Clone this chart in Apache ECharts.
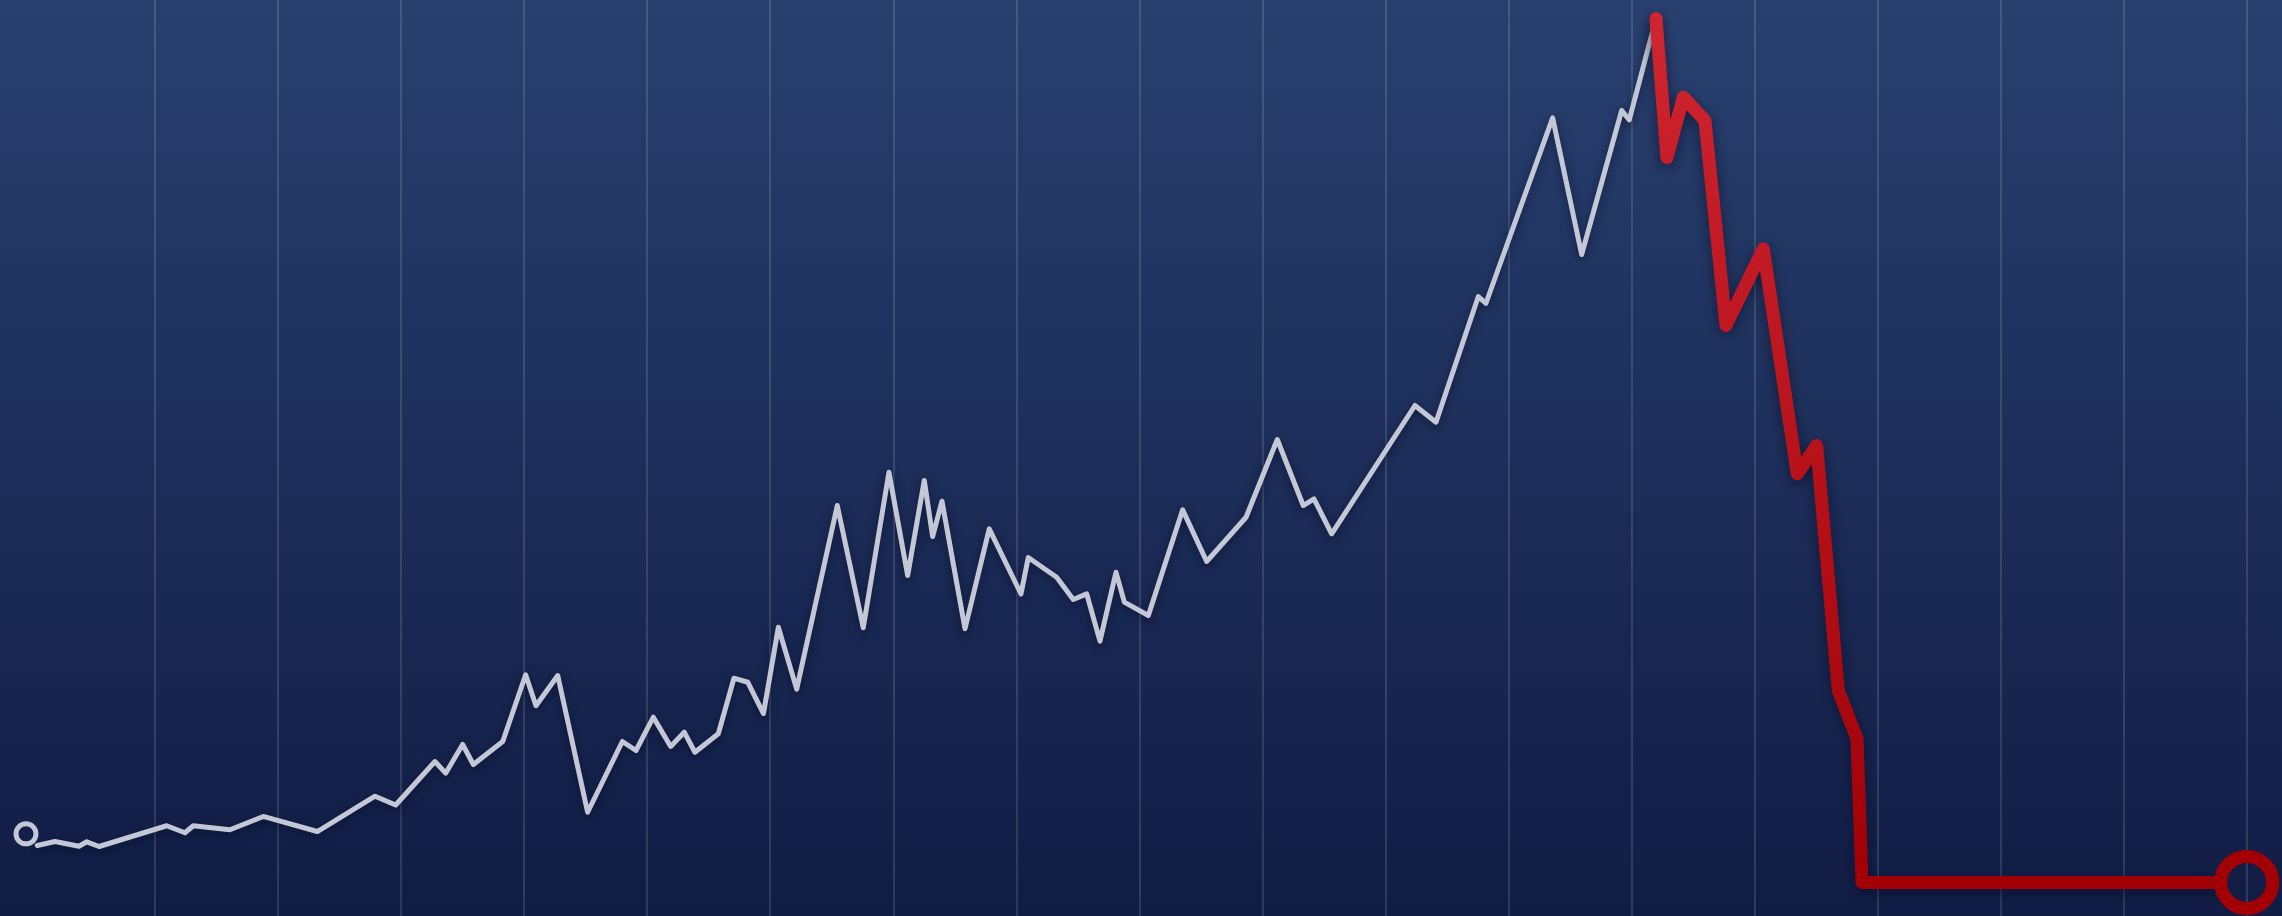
<!DOCTYPE html>
<html>
<head>
<meta charset="utf-8">
<script src="https://cdn.jsdelivr.net/npm/echarts@6/dist/echarts.min.js"></script>
<style>
  html, body { margin: 0; padding: 0; }
  #chart { width: 2282px; height: 916px; }
</style>
</head>
<body>
<div id="chart"></div>
<script>
// Time (years from start) and price of the rising phase
const riseYears = [0.043, 0.187, 0.382, 0.445, 0.545, 1.095, 1.243, 1.311, 1.609, 1.880,
  2.319, 2.788, 2.956, 3.275, 3.362, 3.500, 3.587, 3.826, 4.012, 4.096,
  4.273, 4.516, 4.798, 4.909, 5.050, 5.191, 5.301, 5.388, 5.578, 5.705,
  5.817, 5.945, 6.066, 6.215, 6.545, 6.756, 6.965, 7.117, 7.252, 7.320,
  7.396, 7.583, 7.780, 8.038, 8.097, 8.328, 8.463, 8.572, 8.680, 8.810,
  8.878, 9.073, 9.352, 9.547, 9.867, 10.121, 10.332, 10.419, 10.563, 11.240,
  11.411, 11.755, 11.817, 12.359, 12.595, 12.920, 12.982, 13.199];
const risePrices = [3.85, 4.27, 3.78, 4.24, 3.75, 5.91, 5.18, 5.91, 5.49, 6.88,
  5.31, 8.99, 8.07, 12.60, 11.39, 14.38, 12.29, 14.69, 21.64, 18.41,
  21.56, 7.32, 14.69, 13.75, 17.22, 14.17, 15.66, 13.57, 15.49, 21.28,
  20.86, 17.60, 26.59, 20.14, 39.27, 26.53, 42.74, 31.98, 41.88, 36.04,
  39.72, 26.43, 36.84, 30.05, 33.85, 31.80, 29.48, 30.07, 25.14, 32.32,
  29.20, 27.81, 38.82, 33.44, 38.05, 46.15, 39.27, 39.97, 36.32, 49.69,
  47.95, 61.04, 60.34, 79.66, 65.42, 80.42, 79.45, 90.0];

// Time and price of the collapse
const fallYears = [13.199, 13.288, 13.421, 13.597, 13.768, 14.071, 14.347, 14.505, 14.681, 14.833, 14.873, 17.726];
const fallPrices = [90.0, 75.52, 81.80, 79.38, 58.02, 66.01, 42.57, 45.52, 20.0, 14.97, 0, 0];

// Start and end markers [year, price]
const startMarker = [-0.049, 5.07];
const endMarker = [18.0, 0];

// Axis ranges
const yearRange = [0, 18];
const priceRange = [-3.49, 91.93];

const zip = (xs, ys) => xs.map((x, i) => [x, ys[i]]);

const chart = echarts.init(document.getElementById('chart'), null, { renderer: 'canvas' });
chart.setOption({
  animation: false,
  backgroundColor: {
    type: 'linear', x: 0, y: 0, x2: 0, y2: 1,
    colorStops: [
      { offset: 0, color: '#29406f' },
      { offset: 1, color: '#111c44' }
    ]
  },
  grid: { left: 32, right: 35.3, top: 0, bottom: 0 },
  xAxis: {
    type: 'value',
    min: yearRange[0], max: yearRange[1], interval: 1,
    axisLine: { show: false }, axisTick: { show: false }, axisLabel: { show: false },
    splitLine: {
      show: true, showMinLine: false, showMaxLine: true,
      lineStyle: { color: 'rgba(255,255,255,0.13)', width: 2 }
    }
  },
  yAxis: {
    type: 'value',
    min: priceRange[0], max: priceRange[1],
    axisLine: { show: false }, axisTick: { show: false }, axisLabel: { show: false },
    splitLine: { show: false }
  },
  series: [
    {
      type: 'line',
      data: zip(riseYears, risePrices),
      symbol: 'none',
      clip: false,
      lineStyle: {
        color: '#c4c8d6', width: 5, cap: 'round', join: 'round',
        shadowColor: 'rgba(4,10,35,0.55)', shadowBlur: 10, shadowOffsetY: 3
      },
      z: 2
    },
    {
      type: 'line',
      data: zip(fallYears, fallPrices),
      symbol: 'none',
      clip: false,
      lineStyle: {
        color: {
          type: 'linear', x: 0, y: 0, x2: 0, y2: 1,
          colorStops: [
            { offset: 0, color: '#cf2530' },
            { offset: 1, color: '#a00006' }
          ]
        },
        width: 13, cap: 'round', join: 'round',
        shadowColor: 'rgba(4,10,35,0.6)', shadowBlur: 14, shadowOffsetY: 4
      },
      z: 3
    },
    {
      type: 'scatter',
      data: [startMarker],
      clip: false,
      symbol: 'circle',
      symbolSize: 20,
      itemStyle: { color: 'rgba(0,0,0,0)', borderColor: '#c4c8d6', borderWidth: 5, opacity: 1 },
      z: 4
    },
    {
      type: 'scatter',
      data: [endMarker],
      clip: false,
      symbol: 'circle',
      symbolSize: 52,
      itemStyle: { color: 'rgba(0,0,0,0)', borderColor: '#a30006', borderWidth: 13, opacity: 1 },
      z: 4
    }
  ]
});
</script>
</body>
</html>
